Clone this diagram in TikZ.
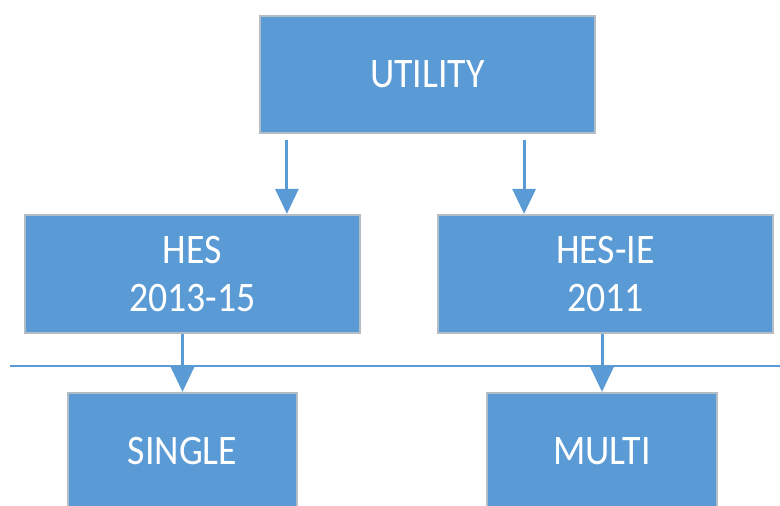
\documentclass[tikz,border=0pt]{standalone}
\usepackage{fontspec}
\setmainfont{Carlito}
\usetikzlibrary{arrows.meta,calc}
\definecolor{boxblue}{HTML}{5B9BD5}
\definecolor{boxedge}{HTML}{B4BCC6}
\newcommand\narrowtxt[1]{\scalebox{0.9}[1]{#1}}
\begin{document}
\begin{tikzpicture}[x=1pt,y=1pt,
  box/.style={rectangle,draw=boxedge,line width=2.2pt,fill=boxblue,text=white,
    inner sep=0pt,align=center,font=\fontsize{42}{48}\selectfont},
  arr/.style={draw=boxblue,line width=3pt,-{Triangle[width=23pt,length=25pt]}},
  rule/.style={draw=boxblue,line width=2pt}]
\useasboundingbox (0,0) rectangle (780,506);
\clip (0,0) rectangle (780,506);
\node[box,minimum width=335pt,minimum height=117pt] (util) at (427.5,431.5) {\narrowtxt{UTILITY}};
\node[box,minimum width=335pt,minimum height=118pt] (hes) at (192.5,232) {\narrowtxt{HES}\\\narrowtxt{2013-15}};
\node[box,minimum width=335pt,minimum height=118pt] (hesie) at (605.5,232) {\narrowtxt{HES-IE}\\\narrowtxt{2011}};
\node[box,minimum width=229pt,minimum height=116pt] (single) at (182.5,55) {\narrowtxt{SINGLE}};
\node[box,minimum width=230pt,minimum height=116pt] (multi) at (602,55) {\narrowtxt{MULTI}};
\coordinate (ruleL) at (10,140);
\coordinate (ruleR) at (780,140);
\draw[rule] (ruleL) -- (ruleR);
\draw[arr] ([xshift=28pt,yshift=-6pt]util.south west) -- ([xshift=28pt]util.south west |- hes.north);
\draw[arr] ([xshift=-72pt,yshift=-6pt]util.south east) -- ([xshift=-72pt]util.south east |- hesie.north);
\draw[arr] (hes.south -| single.north) -- (single.north);
\draw[arr] (hesie.south -| multi.north) -- (multi.north);
\end{tikzpicture}
\end{document}
